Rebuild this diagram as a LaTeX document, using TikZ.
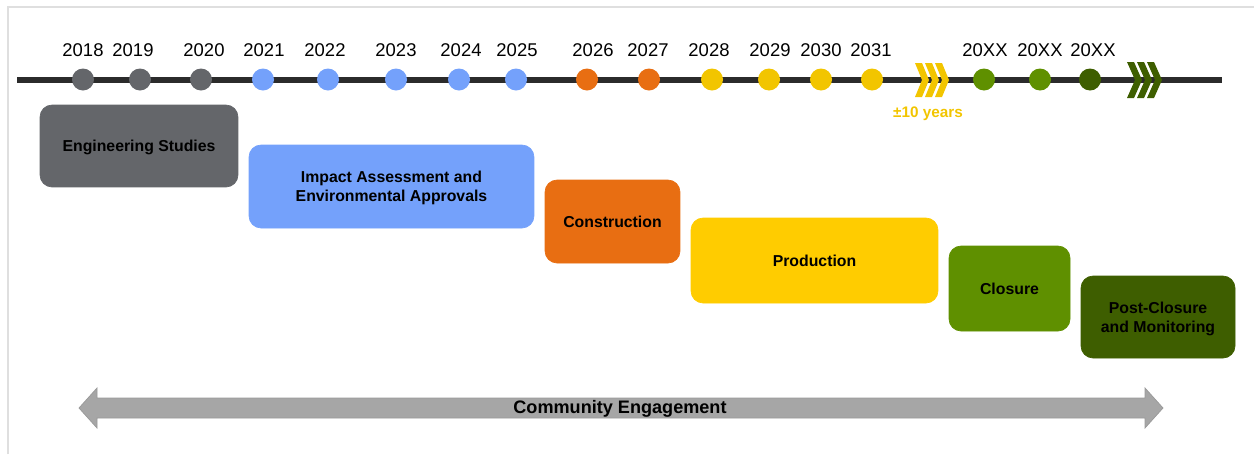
\documentclass[tikz,border=0pt]{standalone}
\usepackage{fontspec}
\setmainfont{Liberation Sans}
\usetikzlibrary{positioning}

\definecolor{studyGray}{HTML}{64666A}
\definecolor{approvalBlue}{HTML}{74A1FB}
\definecolor{buildOrange}{HTML}{E86E12}
\definecolor{prodYellow}{HTML}{FFCC00}
\definecolor{dotYellow}{HTML}{F2C500}
\definecolor{closeGreen}{HTML}{5F9000}
\definecolor{postGreen}{HTML}{3E5E00}
\definecolor{lineBlack}{HTML}{2B2B2B}
\definecolor{engageGray}{HTML}{A6A6A6}

\begin{document}
\begin{tikzpicture}[
    x=0.02cm, y=-0.02cm,    % 1 unit = 1 pixel, y downwards
    font=\fontsize{10.5}{12}\selectfont,
    year_dot/.style={circle, fill=#1, inner sep=0pt, minimum size=0.44cm},
    year_label/.style={inner sep=0pt},
    phase_box/.style={rounded corners=0.24cm, fill=#1, draw=#1, align=center,
        inner sep=0pt, text depth=-0.06cm, font=\fontsize{9}{11}\selectfont\bfseries}
]
    \useasboundingbox (0,0) rectangle (1254,454);

    % --- 1. frame ---
    \draw [gray!25, line width=1.2pt] (8,454) -- (8,7) -- (1254,7);

    % --- 2. time axis ---
    \draw [lineBlack, line width=0.12cm] (17,79.5) -- (1222,79.5);

    % yellow / green chevrons
    \foreach \cx in {915,925,935}
        \fill [dotYellow] (\cx,63) -- ++(7,0) -- ++(7,17) -- ++(-7,17) -- ++(-7,0) -- ++(7,-17) -- cycle;
    \foreach \cx in {1127,1137,1147}
        \fill [postGreen] (\cx,62) -- ++(7,0) -- ++(8,18) -- ++(-8,18) -- ++(-7,0) -- ++(8,-18) -- cycle;
    \node [dotYellow, font=\fontsize{8.7}{10}\selectfont\bfseries] (tenyears) at (928,114) {±10 years};

    % --- 3. year dots and labels ---
    \foreach \px/\lx/\yr/\clr [count=\i] in {
        83/83/2018/studyGray, 140/133/2019/studyGray, 201/204/2020/studyGray,
        263/264/2021/approvalBlue, 328/325/2022/approvalBlue, 396/396/2023/approvalBlue,
        459/461/2024/approvalBlue, 516/517/2025/approvalBlue,
        587/593/2026/buildOrange, 649/648/2027/buildOrange,
        712/709/2028/dotYellow, 769/770/2029/dotYellow, 821/821/2030/dotYellow, 872/871/2031/dotYellow,
        984/985/20XX/closeGreen, 1040/1040/20XX/closeGreen, 1090/1093/20XX/postGreen} {
        \node [year_dot=\clr] (d\i) at (\px,79.5) {};
        \node [year_label] (y\i) at (\lx,50.5) {\yr};
    }

    % --- 4. phases ---
    \node [phase_box=studyGray, minimum width=3.96cm, minimum height=1.64cm]
        (studies) at (139,146) {Engineering Studies};
    \node [phase_box=approvalBlue, minimum width=5.7cm, minimum height=1.66cm]
        (approvals) at (391.5,186.5) {Impact Assessment and\\Environmental Approvals};
    \node [phase_box=buildOrange, minimum width=2.7cm, minimum height=1.66cm]
        (construction) at (612.5,221.5) {Construction};
    \node [phase_box=prodYellow, minimum width=4.94cm, minimum height=1.7cm]
        (production) at (814.5,260.5) {Production};
    \node [phase_box=closeGreen, minimum width=2.42cm, minimum height=1.7cm]
        (closure) at (1009.5,288.5) {Closure};
    \node [phase_box=postGreen, minimum width=3.08cm, minimum height=1.64cm]
        (postclosure) at (1158,317) {Post-Closure\\and Monitoring};

    % --- 5. community engagement arrow ---
    \filldraw [fill=engageGray, draw=gray!80, line width=0.4pt]
        (79,408) -- (97,388) -- (97,398) -- (1145,398) -- (1145,388) -- (1163,408)
        -- (1145,428) -- (1145,418) -- (97,418) -- (97,428) -- cycle;
    \node [font=\fontsize{10.3}{12}\selectfont\bfseries] (engage) at (620,409) {Community Engagement};

\end{tikzpicture}
\end{document}
